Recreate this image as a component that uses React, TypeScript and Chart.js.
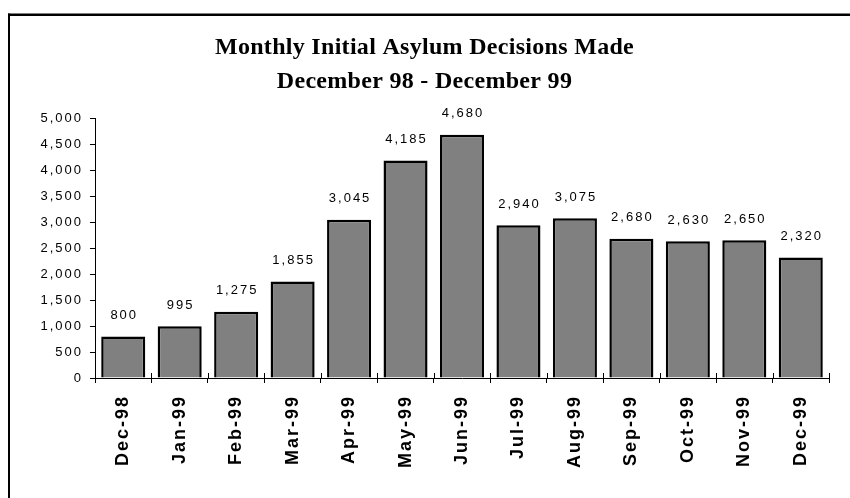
import React, { useEffect, useRef } from "react";
import { Chart, registerables } from "chart.js";

Chart.register(...registerables);

const months = ["Dec-98", "Jan-99", "Feb-99", "Mar-99", "Apr-99", "May-99", "Jun-99", "Jul-99", "Aug-99", "Sep-99", "Oct-99", "Nov-99", "Dec-99"];
const decisions = [800, 995, 1275, 1855, 3045, 4185, 4680, 2940, 3075, 2680, 2630, 2650, 2320];
const titleLines = ["Monthly Initial Asylum Decisions Made", "December 98 - December 99"];
const yMin = 0;
const yMax = 5000;
const yStep = 500;

const fmt = (v: number) => v.toLocaleString("en-US");

const framePlugin = {
  id: "frame",
  beforeDraw(chart: any) {
    const ctx = chart.ctx;
    const tb = chart.titleBlock;
    if (tb && !tb._wrapped) {
      const orig = tb.draw.bind(tb);
      tb.draw = function (...args: any[]) {
        const prev = ctx.letterSpacing;
        ctx.letterSpacing = "0.3px";
        orig(...args);
        ctx.letterSpacing = prev;
      };
      tb._wrapped = true;
    }
    ctx.save();
    ctx.fillStyle = "#000";
    ctx.fillRect(8, 13.5, 842, 2.5);
    ctx.fillRect(8, 13.5, 2, 485);
    ctx.restore();
    ctx.letterSpacing = "2px";
  },
};

const valueLabelPlugin = {
  id: "valueLabels",
  afterDatasetsDraw(chart: any) {
    const ctx = chart.ctx;
    const meta = chart.getDatasetMeta(0);
    ctx.save();
    ctx.letterSpacing = "2px";
    ctx.font = "13px 'Liberation Sans', Arial, sans-serif";
    ctx.fillStyle = "#000";
    ctx.textAlign = "center";
    ctx.textBaseline = "middle";
    meta.data.forEach((bar: any, i: number) => {
      ctx.fillText(fmt(decisions[i]), bar.x + 1, bar.y - 21);
    });
    ctx.restore();
  },
};

const crossTickPlugin = {
  id: "crossTicks",
  afterDraw(chart: any) {
    const x = chart.scales.x;
    const ctx = chart.ctx;
    const n = months.length;
    const w = (x.right - x.left) / n;
    ctx.save();
    ctx.strokeStyle = "#000";
    ctx.lineWidth = 1;
    for (let i = 0; i <= n; i++) {
      const px = Math.round(x.left + i * w) + 0.5;
      ctx.beginPath();
      ctx.moveTo(px, x.top - 5);
      ctx.lineTo(px, x.top);
      ctx.stroke();
    }
    ctx.restore();
  },
};

export default function App() {
  const ref = useRef<HTMLCanvasElement>(null);
  useEffect(() => {
    if (!ref.current) return;
    const chart = new Chart(ref.current, {
      type: "bar",
      data: {
        labels: months,
        datasets: [
          {
            data: decisions,
            backgroundColor: "#808080",
            borderColor: "#000",
            borderWidth: 2.5,
            barPercentage: 0.78,
            categoryPercentage: 1,
          },
        ],
      },
      options: {
        responsive: false,
        animation: false,
        devicePixelRatio: 1,
        layout: { padding: { left: 20, right: 21, top: 0, bottom: 0 } },
        plugins: {
          legend: { display: false },
          tooltip: { enabled: false },
          title: {
            display: true,
            text: titleLines,
            color: "#000",
            font: { family: "'Liberation Serif', 'Times New Roman', serif", size: 24, weight: "bold", lineHeight: 1.4 },
            padding: { top: 31, bottom: 20 },
          },
        },
        scales: {
          x: {
            offset: true,
            grid: { display: true, drawOnChartArea: false, offset: true, color: "#000", tickLength: 5 },
            border: { color: "#000", width: 1 },
            ticks: {
              color: "#000",
              font: { family: "'Liberation Sans', Arial, sans-serif", size: 18, weight: "bold" },
              minRotation: 90,
              maxRotation: 90,
              autoSkip: false,
              padding: 12,
            },
            afterFit(scale: any) {
              scale.height = 120;
            },
          },
          y: {
            min: yMin,
            max: yMax,
            grid: { display: true, drawOnChartArea: false, color: "#000", tickLength: 5 },
            border: { color: "#000", width: 1 },
            ticks: {
              stepSize: yStep,
              color: "#000",
              padding: 7,
              font: { family: "'Liberation Sans', Arial, sans-serif", size: 13 },
              callback: (v: any) => fmt(Number(v)),
            },
            afterFit(scale: any) {
              scale.width = 75;
            },
          },
        },
      },
      plugins: [framePlugin, valueLabelPlugin, crossTickPlugin],
    } as any);
    return () => chart.destroy();
  }, []);
  return (
    <div style={{ position: "fixed", left: 0, top: 0, width: 850, height: 498 }}>
      <canvas ref={ref} width={850} height={498} />
    </div>
  );
}
